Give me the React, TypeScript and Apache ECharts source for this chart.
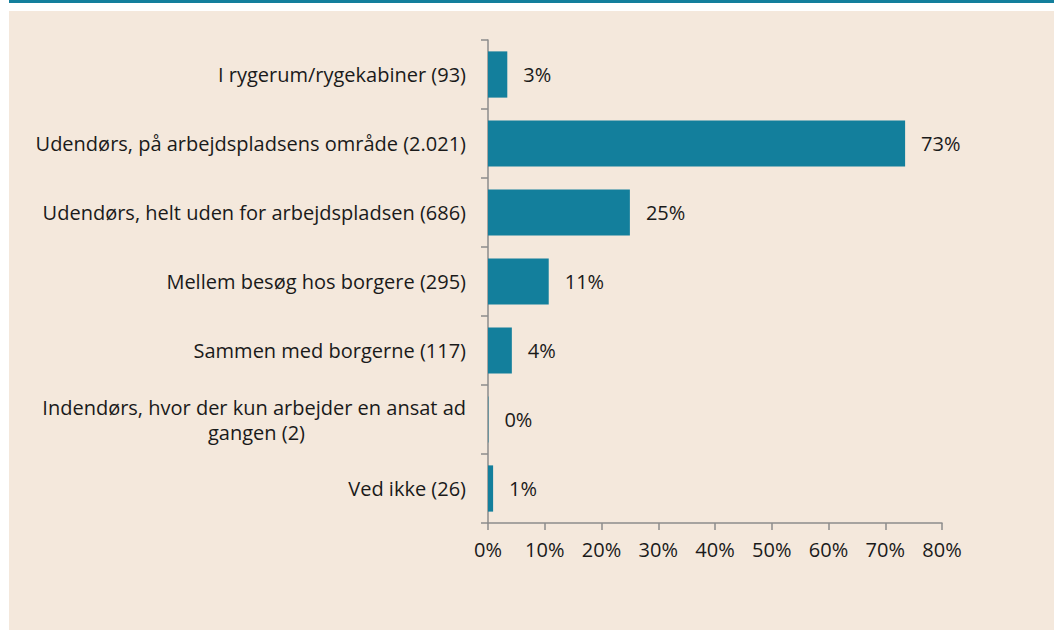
import React, { useEffect, useRef } from "react";
import * as echarts from "echarts";

const categories = [
  "I rygerum/rygekabiner (93)",
  "Udendørs, på arbejdspladsens område (2.021)",
  "Udendørs, helt uden for arbejdspladsen (686)",
  "Mellem besøg hos borgere (295)",
  "Sammen med borgerne (117)",
  "Indendørs, hvor der kun arbejder en ansat ad\ngangen (2)",
  "Ved ikke (26)",
];
const values = [3.4, 73.5, 25.0, 10.7, 4.2, 0.07, 0.9];
const valueLabels = ["3%", "73%", "25%", "11%", "4%", "0%", "1%"];
const xTicks = [0, 10, 20, 30, 40, 50, 60, 70, 80];

const TEAL = "#137f9c";
const BEIGE = "#f4e8dc";
const AXIS = "#8c8c8c";
const TEXT = "#1a1a1a";
const FONT = "'Open Sans', 'Noto Sans', sans-serif";
const FS = 20;

export default function App() {
  const ref = useRef<HTMLDivElement>(null);
  useEffect(() => {
    if (!ref.current) return;
    const chart = echarts.init(ref.current, null, { renderer: "svg" });
    chart.setOption({
      animation: false,
      backgroundColor: "#ffffff",
      textStyle: { fontFamily: FONT },
      graphic: [
        { type: "rect", z: -10, shape: { x: 9, y: 0, width: 1045, height: 3 }, style: { fill: TEAL } },
        { type: "rect", z: -10, shape: { x: 9, y: 11, width: 1045, height: 619 }, style: { fill: BEIGE } },
      ],
      grid: { left: 488, right: 112, top: 40, bottom: 107 },
      xAxis: {
        type: "value",
        min: xTicks[0],
        max: xTicks[xTicks.length - 1],
        interval: 10,
        axisLine: { show: true, lineStyle: { color: AXIS, width: 1.5 } },
        axisTick: { show: true, length: 7, lineStyle: { color: AXIS, width: 1.5 } },
        splitLine: { show: false },
        axisLabel: {
          formatter: (v: number) => v + "%",
          color: TEXT,
          fontSize: FS,
          fontFamily: FONT,
          margin: 16,
        },
      },
      yAxis: {
        type: "category",
        data: categories,
        inverse: true,
        axisLine: { show: true, lineStyle: { color: AXIS, width: 1.5 } },
        axisTick: { show: true, length: 7, lineStyle: { color: AXIS, width: 1.5 } },
        axisLabel: {
          color: TEXT,
          fontSize: FS,
          fontFamily: FONT,
          margin: 22,
          lineHeight: 25,
          formatter: (v: string) => {
            if (v.indexOf("\n") < 0) return v;
            const parts = v.split("\n");
            return "{a|" + parts[0] + "}\n{b|" + parts[1] + "}";
          },
          rich: {
            a: { align: "right", fontSize: FS, fontFamily: FONT, color: TEXT, lineHeight: 25 },
            b: { align: "right", fontSize: FS, fontFamily: FONT, color: TEXT, lineHeight: 25, padding: [0, 161, 0, 0] },
          },
        },
      },
      series: [
        {
          type: "bar",
          data: values,
          barCategoryGap: "33%",
          itemStyle: { color: TEAL },
          label: {
            show: true,
            position: "right",
            distance: 16,
            color: TEXT,
            fontSize: FS,
            fontFamily: FONT,
            formatter: (p: any) => valueLabels[p.dataIndex],
          },
        },
      ],
    });
    return () => chart.dispose();
  }, []);
  return (
    <div
      ref={ref}
      style={{ position: "fixed", left: 0, top: 0, width: 1054, height: 630 }}
    />
  );
}
